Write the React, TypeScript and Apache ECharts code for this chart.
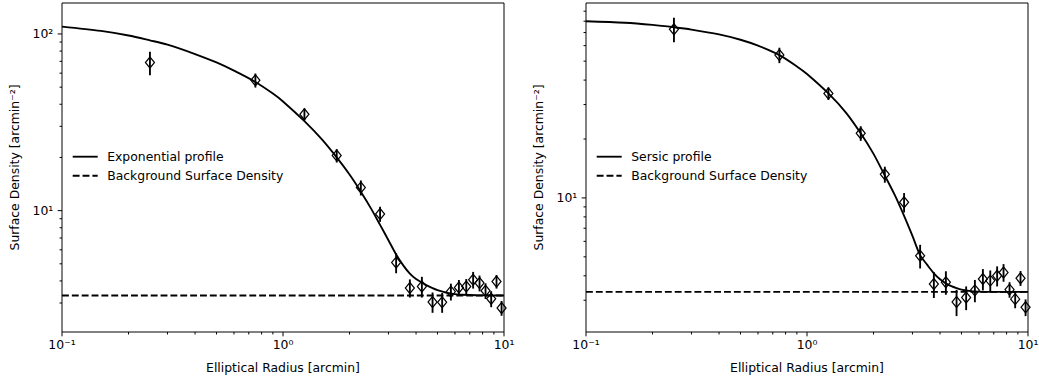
import React, { useEffect, useRef } from 'react';
import * as echarts from 'echarts';

const radii = [0.25, 0.75, 1.25, 1.75, 2.25, 2.75, 3.25, 3.75, 4.25, 4.75, 5.25, 5.75, 6.25, 6.75, 7.25, 7.75, 8.25, 8.75, 9.25, 9.75];

const expDensity = [68.9, 54.7, 35.1, 20.5, 13.5, 9.58, 5.08, 3.65, 3.72, 3.04, 3.03, 3.48, 3.67, 3.72, 4.06, 3.89, 3.52, 3.17, 3.97, 2.81];
const expError = [10.5, 5.0, 2.74, 1.79, 1.32, 0.94, 0.66, 0.43, 0.5, 0.4, 0.39, 0.38, 0.38, 0.38, 0.44, 0.4, 0.36, 0.33, 0.35, 0.27];

const sersicDensity = [72.8, 53.7, 34.2, 21.4, 13.2, 9.51, 5.06, 3.63, 3.71, 2.94, 3.1, 3.37, 3.85, 3.78, 4.0, 4.16, 3.4, 3.04, 3.89, 2.76];
const sersicError = [10.4, 4.86, 2.53, 1.84, 1.24, 1.08, 0.7, 0.55, 0.51, 0.45, 0.43, 0.44, 0.48, 0.48, 0.47, 0.43, 0.31, 0.31, 0.34, 0.27];

// fitted model curves
const modelRadii = [0.1, 0.15, 0.2, 0.25, 0.3, 0.4, 0.5, 0.6, 0.75, 0.9, 1.0, 1.25, 1.5, 1.75, 2.0, 2.25, 2.5, 2.75, 3.0, 3.25, 3.5, 3.75, 4.0, 4.25, 4.5, 4.75, 5.0, 5.5, 6.0, 6.5, 7.5, 10];
const expModel = [110, 104, 98, 92, 87, 77, 69, 62, 53.5, 46, 41.5, 32.1, 25.3, 20.0, 16.0, 12.8, 10.3, 8.3, 6.8, 5.65, 4.9, 4.4, 4.1, 3.92, 3.76, 3.64, 3.55, 3.43, 3.37, 3.34, 3.32, 3.31];
const sersicModel = [80, 78.6, 76.6, 74.5, 72.5, 68.5, 64.3, 60, 53.7, 47, 43, 34.2, 27.3, 21.4, 16.8, 13.0, 10.3, 8.1, 6.4, 5.1, 4.55, 4.12, 3.84, 3.66, 3.54, 3.46, 3.4, 3.34, 3.32, 3.31, 3.31, 3.31];

const backgroundRadii = [0.1, 10];
const expBackground = [3.31, 3.31];
const sersicBackground = [3.31, 3.31];

// axis ranges
const xRange = [0.1, 10];
const yRangeLeft = [2.056, 149.7];
const yRangeRight = [2.065, 99.1];

// ticks and tick labels
const xMajorTicks = [0.1, 1, 10];
const xMajorLabels = ['10\u207B\u00B9', '10\u2070', '10\u00B9'];
const xMinorTicks = [0.2, 0.3, 0.4, 0.5, 0.6, 0.7, 0.8, 0.9, 2, 3, 4, 5, 6, 7, 8, 9];
const yMajorTicksLeft = [10, 100];
const yMajorLabelsLeft = ['10\u00B9', '10\u00B2'];
const yMinorTicksLeft = [3, 4, 5, 6, 7, 8, 9, 20, 30, 40, 50, 60, 70, 80, 90];
const yMajorTicksRight = [10];
const yMajorLabelsRight = ['10\u00B9'];
const yMinorTicksRight = [3, 4, 5, 6, 7, 8, 9, 20, 30, 40, 50, 60, 70, 80, 90];

const FF = 'DejaVu Sans';
const FS = 12.4;
const PT = 1.24; // px per matplotlib point
const MAJOR_LEN = 3.5 * PT;
const MINOR_LEN = 2 * PT;
const PAD = 3.5 * PT;
const LW = 1.5 * PT;
const DASH = [3.7 * 1.5 * PT, 1.6 * 1.5 * PT];

function tickSeries(gridIndex: number, axis: 'x' | 'y', values: number[], labels: string[] | null, len: number) {
  return {
    type: 'custom',
    xAxisIndex: gridIndex,
    yAxisIndex: gridIndex,
    silent: true,
    clip: false,
    z: 10,
    data: values.map((v) => (axis === 'x' ? [v, 10] : [1, v])),
    renderItem: (params: any, api: any) => {
      const cs = params.coordSys;
      const pt = api.coord([api.value(0), api.value(1)]);
      const children: any[] = [];
      if (axis === 'x') {
        const x = pt[0];
        const yb = cs.y + cs.height;
        children.push({
          type: 'line',
          shape: { x1: x, y1: yb, x2: x, y2: yb + len },
          style: { stroke: '#000', lineWidth: 0.8 * PT },
        });
        if (labels) {
          children.push({
            type: 'text',
            style: {
              text: labels[params.dataIndex],
              x,
              y: yb + len + PAD - 2,
              align: 'center',
              verticalAlign: 'top',
              fontSize: FS,
              fontFamily: FF,
              fill: '#000',
            },
          });
        }
      } else {
        const y = pt[1];
        const xl = cs.x;
        children.push({
          type: 'line',
          shape: { x1: xl - len, y1: y, x2: xl, y2: y },
          style: { stroke: '#000', lineWidth: 0.8 * PT },
        });
        if (labels) {
          children.push({
            type: 'text',
            style: {
              text: labels[params.dataIndex],
              x: xl - len - PAD,
              y,
              align: 'right',
              verticalAlign: 'middle',
              fontSize: FS,
              fontFamily: FF,
              fill: '#000',
            },
          });
        }
      }
      return { type: 'group', children };
    },
  };
}

function errorBarSeries(gridIndex: number, xs: number[], ys: number[], errs: number[]) {
  return {
    type: 'custom',
    xAxisIndex: gridIndex,
    yAxisIndex: gridIndex,
    silent: true,
    z: 4,
    data: xs.map((x, i) => [x, ys[i], errs[i]]),
    encode: { x: 0, y: 1 },
    renderItem: (params: any, api: any) => {
      const x = api.value(0);
      const y = api.value(1);
      const e = api.value(2);
      const lo = api.coord([x, y - e]);
      const hi = api.coord([x, y + e]);
      return {
        type: 'line',
        shape: { x1: lo[0], y1: lo[1], x2: hi[0], y2: hi[1] },
        style: { stroke: '#000', lineWidth: LW },
      };
    },
  };
}

function markerSeries(gridIndex: number, xs: number[], ys: number[]) {
  return {
    type: 'scatter',
    xAxisIndex: gridIndex,
    yAxisIndex: gridIndex,
    silent: true,
    z: 5,
    data: xs.map((x, i) => [x, ys[i]]),
    symbol: 'diamond',
    symbolSize: [9, 11],
    itemStyle: { color: 'rgba(0,0,0,0)', borderColor: '#000', borderWidth: PT, opacity: 1 },
  };
}

function curveSeries(gridIndex: number, name: string, xs: number[], ys: number[], dashed: boolean) {
  return {
    type: 'line',
    name,
    xAxisIndex: gridIndex,
    yAxisIndex: gridIndex,
    silent: true,
    z: 3,
    symbol: 'none',
    smooth: dashed ? false : 0.3,
    data: xs.map((x, i) => [x, ys[i]]),
    lineStyle: { color: '#000', width: LW, type: dashed ? DASH : 'solid' },
  };
}

function xAxisDef(gridIndex: number) {
  return {
    type: 'log',
    logBase: 10,
    gridIndex,
    min: xRange[0],
    max: xRange[1],
    name: 'Elliptical Radius [arcmin]',
    nameLocation: 'middle',
    nameGap: 29,
    nameTextStyle: { fontFamily: FF, fontSize: FS, color: '#000' },
    axisLine: { show: false },
    axisTick: { show: false },
    axisLabel: { show: false },
    splitLine: { show: false },
    minorTick: { show: false },
  };
}

function yAxisDef(gridIndex: number, range: number[]) {
  return {
    type: 'log',
    logBase: 10,
    gridIndex,
    min: range[0],
    max: range[1],
    name: 'Surface Density [arcmin\u207B\u00B2]',
    nameLocation: 'middle',
    nameGap: 41.5,
    nameTextStyle: { fontFamily: FF, fontSize: FS, color: '#000' },
    axisLine: { show: false },
    axisTick: { show: false },
    axisLabel: { show: false },
    splitLine: { show: false },
  };
}

function legendGraphic(x0: number, y0: number, labels: string[]) {
  const rowGap = 19;
  const els: any[] = [];
  labels.forEach((label, i) => {
    const y = y0 + i * rowGap;
    els.push({
      type: 'line',
      silent: true,
      shape: { x1: x0, y1: y, x2: x0 + 25, y2: y },
      style: { stroke: '#000', lineWidth: LW, lineDash: i === 1 ? DASH : null },
    });
    els.push({
      type: 'text',
      silent: true,
      x: x0 + 34.5,
      y,
      style: { text: label, fontSize: FS, fontFamily: FF, fill: '#000', align: 'left', verticalAlign: 'middle' },
    });
  });
  return els;
}

export default function App() {
  const ref = useRef<HTMLDivElement>(null);

  useEffect(() => {
    if (!ref.current) return;
    const chart = echarts.init(ref.current, undefined, { renderer: 'svg' });
    const option: any = {
      animation: false,
      backgroundColor: '#fff',
      textStyle: { fontFamily: FF },
      grid: [
        { left: 62, top: 3, width: 442, height: 329, show: true, borderColor: '#000', borderWidth: 0.8 * PT, backgroundColor: 'transparent' },
        { left: 586, top: 3, width: 442, height: 329, show: true, borderColor: '#000', borderWidth: 0.8 * PT, backgroundColor: 'transparent' },
      ],
      xAxis: [xAxisDef(0), xAxisDef(1)],
      yAxis: [yAxisDef(0, yRangeLeft), yAxisDef(1, yRangeRight)],
      series: [
        curveSeries(0, 'Exponential profile', modelRadii, expModel, false),
        curveSeries(0, 'Background Surface Density', backgroundRadii, expBackground, true),
        errorBarSeries(0, radii, expDensity, expError),
        markerSeries(0, radii, expDensity),
        curveSeries(1, 'Sersic profile', modelRadii, sersicModel, false),
        curveSeries(1, 'Background Surface Density', backgroundRadii, sersicBackground, true),
        errorBarSeries(1, radii, sersicDensity, sersicError),
        markerSeries(1, radii, sersicDensity),
        tickSeries(0, 'x', xMajorTicks, xMajorLabels, MAJOR_LEN),
        tickSeries(0, 'x', xMinorTicks, null, MINOR_LEN),
        tickSeries(0, 'y', yMajorTicksLeft, yMajorLabelsLeft, MAJOR_LEN),
        tickSeries(0, 'y', yMinorTicksLeft, null, MINOR_LEN),
        tickSeries(1, 'x', xMajorTicks, xMajorLabels, MAJOR_LEN),
        tickSeries(1, 'x', xMinorTicks, null, MINOR_LEN),
        tickSeries(1, 'y', yMajorTicksRight, yMajorLabelsRight, MAJOR_LEN),
        tickSeries(1, 'y', yMinorTicksRight, null, MINOR_LEN),
      ],
      graphic: [
        ...legendGraphic(72.7, 156.7, ['Exponential profile', 'Background Surface Density']),
        ...legendGraphic(596.7, 156.7, ['Sersic profile', 'Background Surface Density']),
      ],
    };
    chart.setOption(option);
    return () => {
      chart.dispose();
    };
  }, []);

  return (
    <div
      ref={ref}
      style={{ position: 'absolute', left: 0, top: 0, width: 1039, height: 381, background: '#fff' }}
    />
  );
}
